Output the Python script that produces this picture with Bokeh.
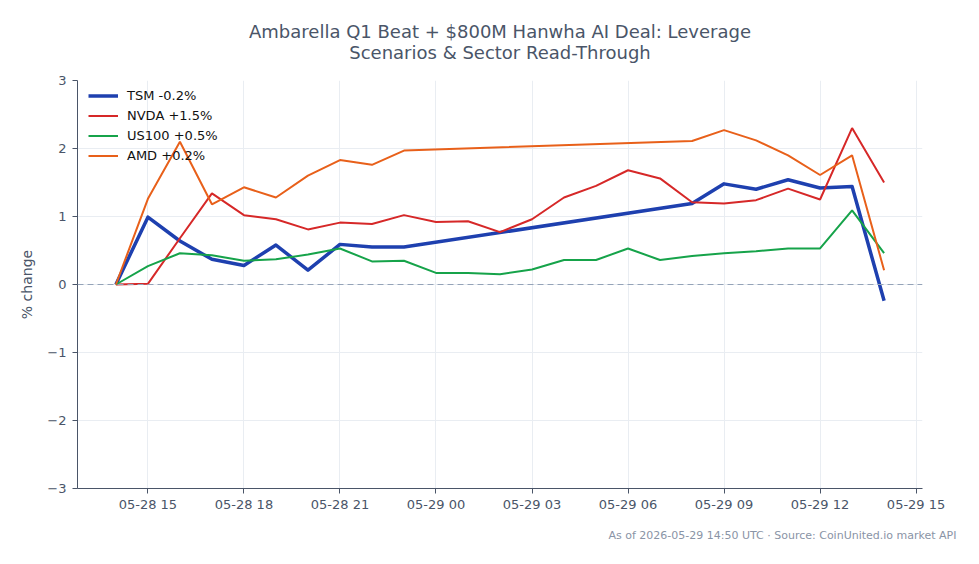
import pandas as pd
from bokeh.plotting import figure
from bokeh.models import (ColumnDataSource, Legend, LegendItem, Span, FixedTicker,
                          DatetimeTickFormatter, Title, Range1d, CustomJSTickFormatter)
from bokeh.embed import file_html
from bokeh.resources import INLINE

# ---- data ----
times_full = [
    "2026-05-28 14:00", "2026-05-28 15:00", "2026-05-28 16:00", "2026-05-28 17:00",
    "2026-05-28 18:00", "2026-05-28 19:00", "2026-05-28 20:00", "2026-05-28 21:00",
    "2026-05-28 22:00", "2026-05-28 23:00", "2026-05-29 00:00", "2026-05-29 01:00",
    "2026-05-29 02:00", "2026-05-29 03:00", "2026-05-29 04:00", "2026-05-29 05:00",
    "2026-05-29 06:00", "2026-05-29 07:00", "2026-05-29 08:00", "2026-05-29 09:00",
    "2026-05-29 10:00", "2026-05-29 11:00", "2026-05-29 12:00", "2026-05-29 13:00",
    "2026-05-29 14:00",
]
times_gap = [
    "2026-05-28 14:00", "2026-05-28 15:00", "2026-05-28 16:00", "2026-05-28 17:00",
    "2026-05-28 18:00", "2026-05-28 19:00", "2026-05-28 20:00", "2026-05-28 21:00",
    "2026-05-28 22:00", "2026-05-28 23:00", "2026-05-29 08:00", "2026-05-29 09:00",
    "2026-05-29 10:00", "2026-05-29 11:00", "2026-05-29 12:00", "2026-05-29 13:00",
    "2026-05-29 14:00",
]
tsm = [0.0, 0.99, 0.64, 0.37, 0.28, 0.58, 0.21, 0.59, 0.55, 0.55,
       1.19, 1.48, 1.40, 1.54, 1.42, 1.44, -0.24]
amd = [0.0, 1.26, 2.10, 1.18, 1.43, 1.28, 1.60, 1.83, 1.76, 1.97,
       2.11, 2.27, 2.12, 1.90, 1.61, 1.90, 0.21]
nvda = [0.0, 0.01, 0.68, 1.34, 1.02, 0.96, 0.81, 0.91, 0.89, 1.02,
        0.92, 0.93, 0.77, 0.96, 1.28, 1.45, 1.68, 1.56, 1.21, 1.19,
        1.24, 1.41, 1.25, 2.30, 1.50]
us100 = [0.0, 0.27, 0.46, 0.43, 0.35, 0.37, 0.44, 0.53, 0.34, 0.35,
         0.17, 0.17, 0.15, 0.22, 0.36, 0.36, 0.53, 0.36, 0.42, 0.46,
         0.49, 0.53, 0.53, 1.09, 0.46]
labels = ["TSM -0.2%", "NVDA +1.5%", "US100 +0.5%", "AMD +0.2%"]
x_ticks = ["2026-05-28 15:00", "2026-05-28 18:00", "2026-05-28 21:00", "2026-05-29 00:00",
           "2026-05-29 03:00", "2026-05-29 06:00", "2026-05-29 09:00", "2026-05-29 12:00",
           "2026-05-29 15:00"]
y_ticks = [-3, -2, -1, 0, 1, 2, 3]
title_lines = ["Ambarella Q1 Beat + $800M Hanwha AI Deal: Leverage",
               "Scenarios & Sector Read-Through"]
foot_text = "As of 2026-05-29 14:50 UTC \u00b7 Source: CoinUnited.io market API"

FONT = "DejaVu Sans"
TXT = "#4a5568"


def ms(ts):
    return [pd.Timestamp(t).value // 10**6 for t in ts]


p = figure(width=979, height=564, output_backend="svg", toolbar_location=None,
           title=None, x_axis_type="datetime",
           x_range=Range1d(pd.Timestamp("2026-05-28 12:48"), pd.Timestamp("2026-05-29 15:12")),
           y_range=Range1d(-3, 3),
           min_border_left=77, min_border_right=57, min_border_top=80, min_border_bottom=76)
p.outline_line_color = None
p.background_fill_color = "white"

# title lines: the one added later sits further from the plot
p.add_layout(Title(text=title_lines[1], align="center", text_font=FONT, text_font_size="18px",
                   text_font_style="normal", text_color=TXT, standoff=36), "above")
p.add_layout(Title(text=title_lines[0], align="center", text_font=FONT, text_font_size="18px",
                   text_font_style="normal", text_color=TXT, standoff=-40), "above")

p.add_layout(Title(text=foot_text, align="right", text_font=FONT, text_font_size="11px",
                   text_font_style="normal", text_color="#8a94a6", offset=-34, standoff=25),
             "below")

p.grid.grid_line_color = "#e9edf2"
p.xaxis.ticker = FixedTicker(ticks=ms(x_ticks))
p.xaxis.formatter = DatetimeTickFormatter(hours="%m-%d %H", days="%m-%d %H",
                                          minutes="%m-%d %H", months="%m-%d %H")
p.yaxis.ticker = FixedTicker(ticks=y_ticks)
p.yaxis.formatter = CustomJSTickFormatter(
    code="return tick < 0 ? '\\u2212' + Math.abs(tick) : String(tick);")
p.xgrid.ticker = p.xaxis.ticker
p.ygrid.ticker = p.yaxis.ticker

for ax in (p.xaxis, p.yaxis):
    ax.axis_line_color = TXT
    ax.major_tick_line_color = TXT
    ax.minor_tick_line_color = None
    ax.major_tick_out = 5
    ax.major_tick_in = 0
    ax.major_label_text_color = TXT
    ax.major_label_text_font = FONT
    ax.major_label_text_font_size = "13px"
    ax.major_label_standoff = 6
p.xaxis.major_label_standoff = 3

p.yaxis.axis_label = "% change"
p.yaxis.axis_label_text_font = FONT
p.yaxis.axis_label_text_font_size = "14px"
p.yaxis.axis_label_text_font_style = "normal"
p.yaxis.axis_label_text_color = TXT
p.yaxis.axis_label_standoff = 9

p.add_layout(Span(location=0, dimension="width", line_color="#94a3b8",
                  line_dash="6 4", line_width=1))

src_gap = ColumnDataSource(dict(t=pd.to_datetime(times_gap), tsm=tsm, amd=amd))
src_full = ColumnDataSource(dict(t=pd.to_datetime(times_full), nvda=nvda, us100=us100))

r_tsm = p.line("t", "tsm", source=src_gap, line_color="#1e40af", line_width=3.5,
               line_join="round")
r_nvda = p.line("t", "nvda", source=src_full, line_color="#d62828", line_width=2)
r_us = p.line("t", "us100", source=src_full, line_color="#16a34a", line_width=2)
r_amd = p.line("t", "amd", source=src_gap, line_color="#e8601a", line_width=2)

legend = Legend(items=[LegendItem(label=labels[0], renderers=[r_tsm]),
                       LegendItem(label=labels[1], renderers=[r_nvda]),
                       LegendItem(label=labels[2], renderers=[r_us]),
                       LegendItem(label=labels[3], renderers=[r_amd])],
                location=(11, 325), margin=0, padding=0, spacing=5,
                glyph_width=30, glyph_height=15, label_height=15, label_standoff=9,
                label_text_font=FONT, label_text_font_size="13px", label_text_color="#111111",
                background_fill_alpha=0, border_line_color=None)
p.add_layout(legend)

open("out.html", "w").write(file_html(p, INLINE))
